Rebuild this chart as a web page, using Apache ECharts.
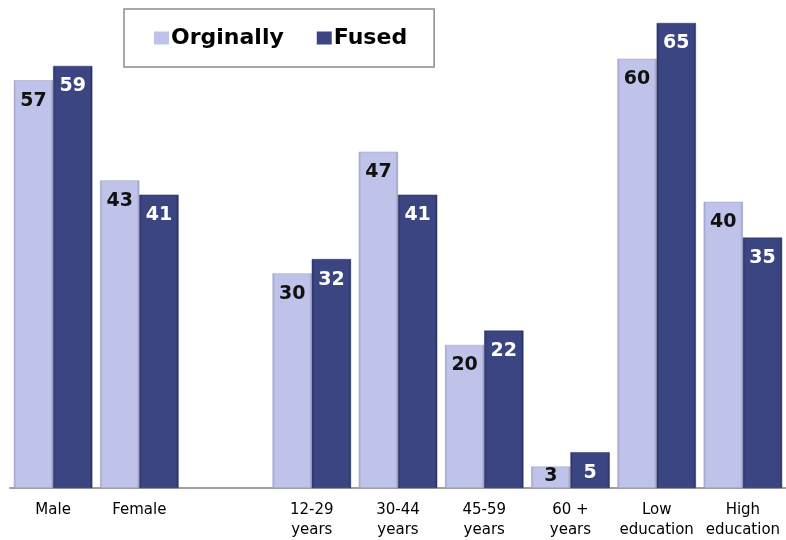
<!DOCTYPE html>
<html>
<head>
<meta charset="utf-8">
<script src="https://cdn.jsdelivr.net/npm/echarts@6/dist/echarts.min.js"></script>
<style>
  html, body { margin: 0; padding: 0; background: #ffffff; }
  #chart { width: 786px; height: 540px; }
</style>
</head>
<body>
<div id="chart"></div>
<script>
// Category labels (empty slot separates gender from age groups)
const categories = ['Male', 'Female', '', '12-29\nyears', '30-44\nyears', '45-59\nyears', '60 +\nyears', 'Low\neducation', 'High\neducation'];
const seriesNames = ['Orginally', 'Fused'];
const originally = [57, 43, null, 30, 47, 20, 3, 60, 40];
const fused = [59, 41, null, 32, 41, 22, 5, 65, 35];

const FONT = "'DejaVu Sans', Verdana, sans-serif";

function barGradient(edgeL, mid, edgeR) {
  return new echarts.graphic.LinearGradient(0, 0, 1, 0, [
    { offset: 0, color: edgeL },
    { offset: 0.07, color: mid },
    { offset: 0.93, color: mid },
    { offset: 1, color: edgeR }
  ]);
}

// Short bars keep their label sitting inside the bar
function toItems(values) {
  return values.map(v => {
    if (v === null) return '-';
    if (v < 4) return { value: v, label: { distance: 0 } };
    return v;
  });
}

const lightFill = barGradient('#a2a5c9', '#bfc3ea', '#9a9dc1');
const darkFill = barGradient('#2a3268', '#3b4582', '#262e60');

const chart = echarts.init(document.getElementById('chart'), null, { renderer: 'canvas' });
chart.setOption({
  animation: false,
  backgroundColor: '#ffffff',
  legend: {
    left: 124,
    top: 9,
    padding: [18, 27, 18, 30],
    borderColor: '#8c8c8c',
    borderWidth: 1.5,
    icon: 'rect',
    itemWidth: 15,
    itemHeight: 13,
    itemGap: 33,
    textStyle: { fontFamily: FONT, fontSize: 22, fontWeight: 'bold', color: '#000000', padding: [0, 0, 0, -3] },
    data: [
      { name: seriesNames[0], itemStyle: { color: '#bfc3ea', borderWidth: 0 } },
      { name: seriesNames[1], itemStyle: { color: '#3b4582', borderWidth: 0 } }
    ]
  },
  grid: { left: 10, top: 23, width: 781, height: 468, containLabel: false },
  xAxis: {
    type: 'category',
    data: categories,
    axisLine: { lineStyle: { color: '#a0a0a0', width: 2 } },
    axisTick: { show: false },
    axisLabel: {
      interval: 0,
      margin: 12,
      fontFamily: FONT,
      fontSize: 15,
      lineHeight: 20,
      color: '#000000'
    }
  },
  yAxis: {
    type: 'value',
    min: 0,
    max: 65,
    show: false,
    splitLine: { show: false }
  },
  series: [
    {
      name: seriesNames[0],
      type: 'bar',
      data: toItems(originally),
      barGap: '0%',
      barCategoryGap: '9%',
      itemStyle: { color: lightFill, borderColor: '#9a9dbf', borderWidth: 0.5 },
      label: {
        show: true,
        position: 'insideTop',
        distance: 11,
        fontFamily: FONT,
        fontSize: 19,
        fontWeight: 'bold',
        color: '#111111'
      }
    },
    {
      name: seriesNames[1],
      type: 'bar',
      data: toItems(fused),
      barGap: '0%',
      barCategoryGap: '9%',
      itemStyle: { color: darkFill, borderColor: '#262e60', borderWidth: 0.5 },
      label: {
        show: true,
        position: 'insideTop',
        distance: 11,
        fontFamily: FONT,
        fontSize: 19,
        fontWeight: 'bold',
        color: '#ffffff'
      }
    }
  ]
});
</script>
</body>
</html>
